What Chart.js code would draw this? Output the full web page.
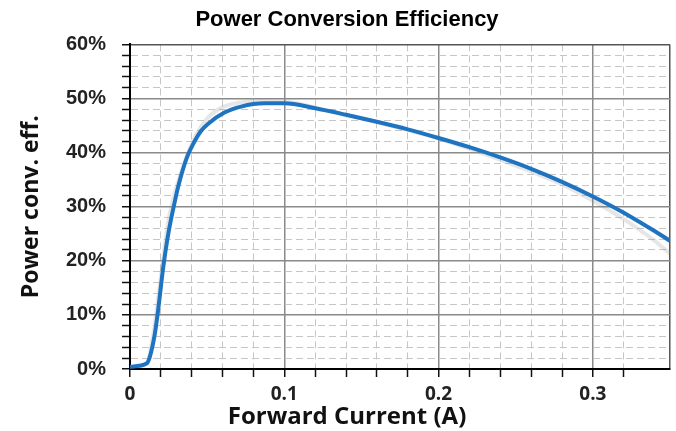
<!DOCTYPE html>
<html>
<head>
<meta charset="utf-8">
<script src="https://cdn.jsdelivr.net/npm/chart.js@4"></script>
<style>
  body { margin: 0; background: #fff; }
  #wrap { width: 676px; height: 431px; }
</style>
</head>
<body>
<div id="wrap"><canvas id="grafico" width="676" height="431"></canvas></div>
<script>
// Dados
const corrente = [0, 0.0107, 0.0129, 0.0161, 0.0182, 0.0215, 0.0247, 0.029, 0.0315, 0.0365, 0.0419, 0.046, 0.0505, 0.0612, 0.072, 0.087, 0.1, 0.12, 0.14, 0.16, 0.18, 0.2, 0.22, 0.24, 0.26, 0.28, 0.3, 0.32, 0.34, 0.35];
const eficiencia = [0.4, 1.0, 2.3, 6.5, 10.8, 18.7, 24.8, 30.9, 34.0, 38.8, 42.1, 44.0, 45.3, 47.4, 48.5, 49.1, 49.1, 48.2, 47.0, 45.7, 44.3, 42.7, 41.0, 39.1, 37.0, 34.6, 31.9, 28.9, 25.5, 23.7];

// nuvem cinza de medições por trás da curva
const correnteMedida = [0.012, 0.016, 0.02, 0.025, 0.03, 0.04, 0.05, 0.06, 0.07, 0.08, 0.1, 0.13, 0.16, 0.2, 0.25, 0.28, 0.3, 0.32, 0.34, 0.35];
const eficienciaMedida = [1.5, 8, 17, 27.5, 33.5, 41.6, 46.3, 48.4, 49.2, 49.5, 49.4, 47.6, 45.6, 42.6, 37.6, 34.1, 31.1, 27.7, 23.7, 21.3];

const ticksX = [0, 0.1, 0.2, 0.3];
const ticksY = [0, 10, 20, 30, 40, 50, 60];

function ehMajorX(v) {
  return ticksX.some(t => Math.abs(t - v) < 1e-6);
}
function ehMajorY(v) {
  return ticksY.includes(Math.round(v));
}
function ehBordaX(v) {
  return Math.abs(v - 0.35) < 1e-6;
}

const pontos = corrente.map((x, i) => ({ x: x, y: eficiencia[i] }));
const pontosMedidos = correnteMedida.map((x, i) => ({ x: x, y: eficienciaMedida[i] }));

const ctx = document.getElementById('grafico');

new Chart(ctx, {
  type: 'line',
  data: {
    datasets: [{
      label: 'Power conv. eff.',
      data: pontos,
      borderColor: '#1f74c2',
      borderWidth: 4,
      pointRadius: 0,
      cubicInterpolationMode: 'monotone'
    }, {
      label: 'medido',
      data: pontosMedidos,
      borderColor: 'rgba(140,140,140,0.22)',
      borderWidth: 4,
      pointRadius: 0,
      cubicInterpolationMode: 'monotone'
    }]
  },
  options: {
    responsive: false,
    animation: false,
    layout: { padding: { left: 20, right: 2, top: 0, bottom: 2 } },
    plugins: {
      legend: { display: false },
      tooltip: { enabled: false },
      title: {
        display: true,
        text: 'Power Conversion Efficiency',
        color: '#000',
        font: { family: 'Arial, "Liberation Sans"', size: 22, weight: 'bold', lineHeight: 1.2 },
        padding: { top: 7, bottom: 11 }
      },
      subtitle: {
        display: true,
        position: 'bottom',
        text: 'Forward Current (A)',
        color: '#111',
        font: { family: '"Open Sans"', size: 24, weight: 'bold', lineHeight: 1 },
        padding: { top: 0, bottom: 0 }
      }
    },
    scales: {
      x: {
        type: 'linear',
        min: 0,
        max: 0.35,
        afterFit: scale => { scale.height = 36; },
        ticks: {
          stepSize: 0.02,
          autoSkip: false,
          maxRotation: 0,
          padding: 6,
          color: '#222',
          font: { family: '"Open Sans"', size: 19, weight: 'bold' },
          callback: v => {
            if (!ehMajorX(v)) return '';
            return v === 0 ? '0' : v.toFixed(1);
          }
        },
        grid: {
          color: c => {
            const v = c.tick.value;
            if (ehBordaX(v)) return '#555';
            return ehMajorX(v) ? '#8a8a8a' : '#c6c6c6';
          },
          lineWidth: c => (ehMajorX(c.tick.value) || ehBordaX(c.tick.value)) ? 1.5 : 1,
          tickColor: c => ehBordaX(c.tick.value) ? 'rgba(0,0,0,0)' : '#111',
          tickLength: 8,
          tickWidth: 1.5
        },
        border: {
          color: '#000',
          width: 2,
          dash: c => (c.tick && !ehMajorX(c.tick.value) && !ehBordaX(c.tick.value)) ? [7, 4] : []
        }
      },
      y: {
        min: 0,
        max: 60,
        afterFit: scale => { scale.width = 110; },
        title: {
          display: true,
          text: 'Power conv. eff.',
          color: '#111',
          font: { family: '"Open Sans"', size: 23, weight: 'bold', lineHeight: 1 },
          padding: { top: 0, bottom: 0 }
        },
        ticks: {
          stepSize: 2,
          autoSkip: false,
          padding: 16,
          color: '#222',
          font: { family: 'Arial, "Liberation Sans"', size: 20, weight: 'bold' },
          callback: v => ehMajorY(v) ? v + '%' : ''
        },
        grid: {
          color: c => {
            const v = c.tick.value;
            if (v === 60) return '#555';
            return ehMajorY(v) ? '#8a8a8a' : '#c6c6c6';
          },
          lineWidth: c => ehMajorY(c.tick.value) ? 1.5 : 1,
          tickColor: '#111',
          tickLength: 8,
          tickWidth: 1.5
        },
        border: {
          color: '#000',
          width: 2,
          dash: c => (c.tick && !ehMajorY(c.tick.value)) ? [7, 4] : []
        }
      }
    }
  }
});
</script>
</body>
</html>
